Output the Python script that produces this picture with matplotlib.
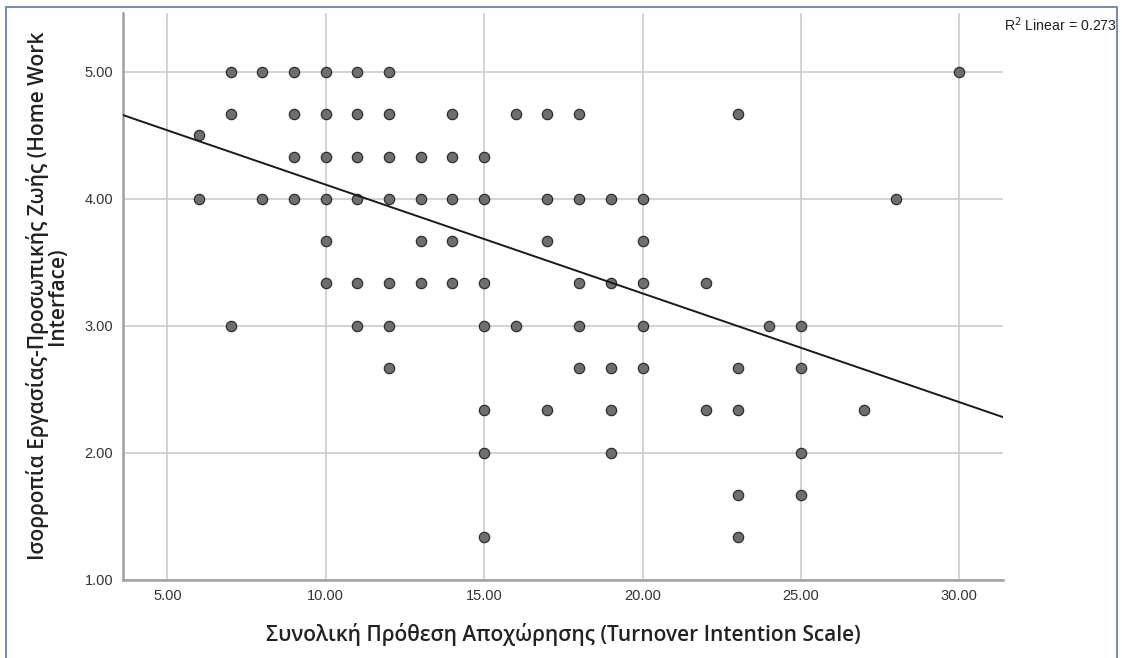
import matplotlib
matplotlib.use("Agg")
import matplotlib.pyplot as plt
from matplotlib.patches import Rectangle

# observed points (x = turnover intention, y = home work interface)
x_vals = [7, 8, 9, 10, 11, 12, 30,
          7, 9, 10, 11, 12, 14, 16, 17, 18, 23,
          6,
          9, 10, 11, 12, 13, 14, 15,
          6, 8, 9, 10, 11, 12, 13, 14, 15, 17, 18, 19, 20, 28,
          10, 13, 14, 17, 20,
          10, 11, 12, 13, 14, 15, 18, 19, 20, 22,
          7, 11, 12, 15, 16, 18, 20, 24, 25,
          12, 18, 19, 20, 23, 25,
          15, 17, 19, 22, 23, 27,
          15, 19, 25,
          23, 25,
          15, 23]
y_vals = [5.0] * 7 + [4.667] * 10 + [4.5] + [4.333] * 7 + [4.0] * 14 \
    + [3.667] * 5 + [3.333] * 10 + [3.0] * 9 + [2.667] * 6 + [2.333] * 6 \
    + [2.0] * 3 + [1.667] * 2 + [1.333] * 2

fit_intercept = 4.969
fit_slope = -0.0857
r2 = 0.273

x_ticks = [5, 10, 15, 20, 25, 30]
y_ticks = [1, 2, 3, 4, 5]

fig = plt.figure(figsize=(11.22, 6.58), dpi=100)
ax = fig.add_axes([123 / 1122, 1 - 579.5 / 658, 880 / 1122, 566.5 / 658])

ax.set_xlim(3.6, 31.38)
ax.set_ylim(1.0, 5.465)
ax.set_xticks(x_ticks)
ax.set_yticks(y_ticks)
ax.set_xticklabels(["%.2f" % v for v in x_ticks])
ax.set_yticklabels(["%.2f" % v for v in y_ticks])
ax.grid(True, color="#c8c8c8", lw=1.1)
ax.set_axisbelow(True)
for s in ["top", "right"]:
    ax.spines[s].set_visible(False)
for s in ["left", "bottom"]:
    ax.spines[s].set_color("#a0a0a0")
    ax.spines[s].set_linewidth(1.8)
ax.tick_params(length=0, pad=7, labelsize=10.5, labelcolor="#333333")
for lab in ax.get_xticklabels() + ax.get_yticklabels():
    lab.set_family("Liberation Sans")

ax.scatter(x_vals, y_vals, s=55, facecolor="#6e6e6e", edgecolor="#2f2f2f",
           linewidth=0.9, zorder=3)

xl = ax.get_xlim()
ax.plot(xl, [fit_intercept + fit_slope * v for v in xl], color="#1a1a1a",
        lw=1.4, zorder=4)

ax.set_xlabel("Συνολική Πρόθεση Αποχώρησης (Turnover Intention Scale)",
              family="Open Sans", fontsize=15, fontweight="semibold",
              color="#222222", labelpad=14)
ax.set_ylabel("Ισορροπία Εργασίας-Προσωπικής Ζωής (Home Work\nInterface)",
              family="Open Sans", fontsize=15, fontweight="semibold",
              color="#222222", labelpad=12, linespacing=0.9)

fig.text(1004 / 1122, 1 - 25 / 658, "R$^2$ Linear = %.3f" % r2,
         family="Liberation Sans", fontsize=10.2, color="#222222",
         ha="left", va="center")

# outer frame
fig.patches.append(Rectangle((6 / 1122, -0.01), 1111 / 1122, 1.01 - 7 / 658,
                             transform=fig.transFigure, fill=False,
                             edgecolor="#5a78b0", lw=1.2))

fig.savefig("out.png", dpi=100)
